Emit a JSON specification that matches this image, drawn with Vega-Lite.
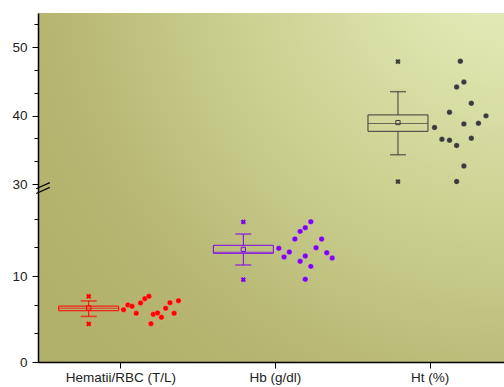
{
  "$schema": "https://vega.github.io/schema/vega-lite/v6.json",
  "autosize": {"type": "none"},
  "width": 466,
  "height": 349,
  "padding": {"left": 38, "top": 13, "right": 0, "bottom": 25},
  "background": "white",
  "config": {
    "font": "Liberation Sans",
    "view": {
      "stroke": null,
      "fill": {
        "gradient": "radial",
        "x1": 1, "y1": 0, "r1": 0,
        "x2": 1, "y2": 0, "r2": 1.4,
        "stops": [
          {"offset": 0, "color": "#e8f0c0"},
          {"offset": 0.42, "color": "#cbd08f"},
          {"offset": 0.71, "color": "#b6b571"},
          {"offset": 1, "color": "#afae67"}
        ]
      }
    }
  },
  "datasets": {
    "pts": [
      {"g": "RBC", "x": 1.021, "v": 6.08},
      {"g": "RBC", "x": 1.049, "v": 6.63},
      {"g": "RBC", "x": 1.076, "v": 6.47},
      {"g": "RBC", "x": 1.103, "v": 5.66},
      {"g": "RBC", "x": 1.131, "v": 6.86},
      {"g": "RBC", "x": 1.158, "v": 7.36},
      {"g": "RBC", "x": 1.185, "v": 7.64},
      {"g": "RBC", "x": 1.198, "v": 4.45},
      {"g": "RBC", "x": 1.213, "v": 5.55},
      {"g": "RBC", "x": 1.241, "v": 5.7},
      {"g": "RBC", "x": 1.266, "v": 5.2},
      {"g": "RBC", "x": 1.293, "v": 6.24},
      {"g": "RBC", "x": 1.321, "v": 6.9},
      {"g": "RBC", "x": 1.348, "v": 5.66},
      {"g": "RBC", "x": 1.376, "v": 7.13},
      {"g": "Hb", "x": 2.025, "v": 13.22},
      {"g": "Hb", "x": 2.059, "v": 12.21},
      {"g": "Hb", "x": 2.093, "v": 12.79},
      {"g": "Hb", "x": 2.129, "v": 14.3},
      {"g": "Hb", "x": 2.163, "v": 15.19},
      {"g": "Hb", "x": 2.163, "v": 11.71},
      {"g": "Hb", "x": 2.196, "v": 15.62},
      {"g": "Hb", "x": 2.196, "v": 12.33},
      {"g": "Hb", "x": 2.196, "v": 9.61},
      {"g": "Hb", "x": 2.232, "v": 16.31},
      {"g": "Hb", "x": 2.232, "v": 11.12},
      {"g": "Hb", "x": 2.266, "v": 13.29},
      {"g": "Hb", "x": 2.302, "v": 14.3},
      {"g": "Hb", "x": 2.335, "v": 12.71},
      {"g": "Hb", "x": 2.37, "v": 12.09},
      {"g": "Ht", "x": 3.032, "v": 38.25},
      {"g": "Ht", "x": 3.08, "v": 36.55},
      {"g": "Ht", "x": 3.129, "v": 40.48},
      {"g": "Ht", "x": 3.129, "v": 36.41},
      {"g": "Ht", "x": 3.175, "v": 44.18},
      {"g": "Ht", "x": 3.175, "v": 35.63},
      {"g": "Ht", "x": 3.175, "v": 30.35},
      {"g": "Ht", "x": 3.199, "v": 47.96},
      {"g": "Ht", "x": 3.222, "v": 44.9},
      {"g": "Ht", "x": 3.222, "v": 38.79},
      {"g": "Ht", "x": 3.222, "v": 32.62},
      {"g": "Ht", "x": 3.27, "v": 41.79},
      {"g": "Ht", "x": 3.27, "v": 36.7},
      {"g": "Ht", "x": 3.316, "v": 38.88},
      {"g": "Ht", "x": 3.365, "v": 39.96}
    ],
    "stats": [
      {"g": "RBC", "grp": 1, "mean": 6.28, "median": 6.24, "se_lo": 5.96, "se_hi": 6.5, "sd_lo": 5.3, "sd_hi": 7.1, "min": 4.42, "max": 7.64},
      {"g": "Hb", "grp": 2, "mean": 13.1, "median": 12.76, "se_lo": 12.64, "se_hi": 13.57, "sd_lo": 11.28, "sd_hi": 14.88, "min": 9.57, "max": 16.28},
      {"g": "Ht", "grp": 3, "mean": 38.98, "median": 38.84, "se_lo": 37.7, "se_hi": 40.1, "sd_lo": 34.28, "sd_hi": 43.5, "min": 30.35, "max": 47.9}
    ],
    "one": [{}]
  },
  "encoding": {
    "y": {
      "type": "quantitative",
      "scale": {"domain": [0, 20, 30, 55], "range": [349, 177, 171, 0], "nice": false, "zero": false},
      "axis": {
        "title": null,
        "grid": false,
        "zindex": 0,
        "values": [0, 3.3333, 6.6667, 10, 13.3333, 16.6667, 30, 33.3333, 36.6667, 40, 43.3333, 46.6667, 50, 53.3333],
        "labelExpr": "abs(datum.value - round(datum.value/10)*10) < 0.01 ? format(datum.value, 'd') : ''",
        "tickSize": {"condition": {"test": "abs(datum.value - round(datum.value/10)*10) < 0.01", "value": 6}, "value": 4},
        "domainColor": "#000000",
        "domainWidth": 1.5,
        "tickColor": "#000000",
        "tickWidth": 1,
        "labelFontSize": 13.5,
        "labelColor": "#222222",
        "labelPadding": 5
      }
    }
  },
  "layer": [
    {
      "data": {"name": "one"},
      "mark": {"type": "rule", "color": "#b3b36d", "strokeWidth": 4},
      "encoding": {
        "x": {"datum": 0.5, "type": "quantitative", "scale": {"domain": [0.5, 3.449], "nice": false, "zero": false},
          "axis": {
            "title": null, "grid": false, "values": [1, 2, 3], "zindex": 0,
            "labelExpr": "datum.value == 1 ? 'Hematii/RBC (T/L)' : datum.value == 2 ? 'Hb (g/dl)' : 'Ht (%)'",
            "domainColor": "#000000", "domainWidth": 1.5, "tickColor": "#000000", "tickSize": 6,
            "labelFontSize": 13.5, "labelColor": "#222222", "labelPadding": 2
          }},
        "y": {"datum": 20.6},
        "y2": {"datum": 26.6}
      }
    },
    {
      "data": {"name": "one"},
      "mark": {"type": "rule", "color": "#000000", "strokeWidth": 1.2},
      "encoding": {"x": {"datum": 0.456}, "x2": {"datum": 0.544}, "y": {"datum": 19.6}, "y2": {"datum": 24.4}}
    },
    {
      "data": {"name": "one"},
      "mark": {"type": "rule", "color": "#000000", "strokeWidth": 1.2},
      "encoding": {"x": {"datum": 0.456}, "x2": {"datum": 0.544}, "y": {"datum": 22.2}, "y2": {"datum": 30.2}}
    },
    {
      "data": {"name": "stats"},
      "layer": [
        {
          "mark": {"type": "bar", "size": 60, "xOffset": -31.6, "fillOpacity": 0, "strokeWidth": 1},
          "encoding": {
            "x": {"field": "grp", "type": "quantitative"},
            "y": {"field": "se_lo", "type": "quantitative"},
            "y2": {"field": "se_hi"},
            "stroke": {"field": "g", "type": "nominal", "scale": {"domain": ["RBC", "Hb", "Ht"], "range": ["#ff0000", "#7f00f0", "#3a3a3a"]}, "legend": null}
          }
        },
        {
          "mark": {"type": "tick", "orient": "horizontal", "size": 60, "thickness": 1, "xOffset": -31.6},
          "encoding": {
            "x": {"field": "grp", "type": "quantitative"},
            "y": {"field": "median", "type": "quantitative"},
            "color": {"field": "g", "type": "nominal", "scale": {"domain": ["RBC", "Hb", "Ht"], "range": ["#ff0000", "#7f00f0", "#3a3a3a"]}, "legend": null}
          }
        },
        {
          "mark": {"type": "rule", "strokeWidth": 1, "xOffset": -31.6},
          "encoding": {
            "x": {"field": "grp", "type": "quantitative"},
            "y": {"field": "se_hi", "type": "quantitative"},
            "y2": {"field": "sd_hi"},
            "color": {"field": "g", "type": "nominal", "legend": null}
          }
        },
        {
          "mark": {"type": "rule", "strokeWidth": 1, "xOffset": -31.6},
          "encoding": {
            "x": {"field": "grp", "type": "quantitative"},
            "y": {"field": "se_lo", "type": "quantitative"},
            "y2": {"field": "sd_lo"},
            "color": {"field": "g", "type": "nominal", "legend": null}
          }
        },
        {
          "mark": {"type": "tick", "orient": "horizontal", "size": 16, "thickness": 1.5, "xOffset": -31.6},
          "encoding": {
            "x": {"field": "grp", "type": "quantitative"},
            "y": {"field": "sd_hi", "type": "quantitative"},
            "color": {"field": "g", "type": "nominal", "legend": null}
          }
        },
        {
          "mark": {"type": "tick", "orient": "horizontal", "size": 16, "thickness": 1.5, "xOffset": -31.6},
          "encoding": {
            "x": {"field": "grp", "type": "quantitative"},
            "y": {"field": "sd_lo", "type": "quantitative"},
            "color": {"field": "g", "type": "nominal", "legend": null}
          }
        },
        {
          "mark": {"type": "point", "shape": "square", "size": 18, "filled": false, "strokeWidth": 1, "xOffset": -31.6, "opacity": 1},
          "encoding": {
            "x": {"field": "grp", "type": "quantitative"},
            "y": {"field": "mean", "type": "quantitative"},
            "color": {"field": "g", "type": "nominal", "legend": null}
          }
        },
        {
          "mark": {"type": "point", "shape": "cross", "angle": 45, "size": 28, "filled": true, "xOffset": -31.6, "opacity": 1},
          "encoding": {
            "x": {"field": "grp", "type": "quantitative"},
            "y": {"field": "max", "type": "quantitative"},
            "color": {"field": "g", "type": "nominal", "legend": null}
          }
        },
        {
          "mark": {"type": "point", "shape": "cross", "angle": 45, "size": 28, "filled": true, "xOffset": -31.6, "opacity": 1},
          "encoding": {
            "x": {"field": "grp", "type": "quantitative"},
            "y": {"field": "min", "type": "quantitative"},
            "color": {"field": "g", "type": "nominal", "legend": null}
          }
        }
      ]
    },
    {
      "data": {"name": "pts"},
      "mark": {"type": "circle", "size": 30, "opacity": 1, "strokeWidth": 0.6, "stroke": "#ffffff", "strokeOpacity": 0.35},
      "encoding": {
        "x": {"field": "x", "type": "quantitative"},
        "y": {"field": "v", "type": "quantitative"},
        "color": {"field": "g", "type": "nominal", "legend": null}
      }
    }
  ]
}
